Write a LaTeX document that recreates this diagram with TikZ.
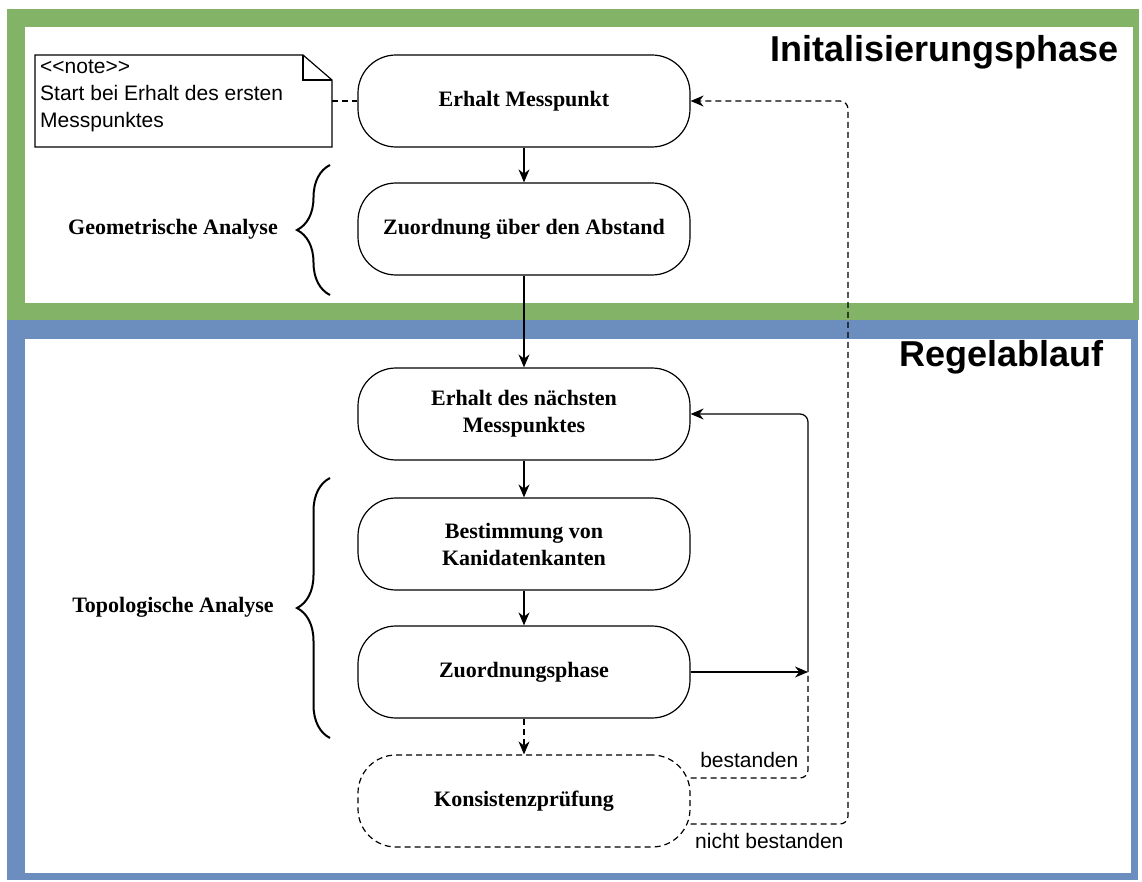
\documentclass[tikz,border=0pt]{standalone}
\usepackage{fontspec}
\setmainfont{Liberation Serif}
\setsansfont{Liberation Sans}
\usetikzlibrary{arrows.meta,decorations.pathreplacing}
\definecolor{gruen}{HTML}{82B366}
\definecolor{blau}{HTML}{6C8EBF}

\begin{document}
\begin{tikzpicture}[x=1pt,y=-1pt,
		schritt/.style={draw, line width=1.2pt, rounded corners=38pt, minimum width=332pt, minimum height=92pt, align=center, font=\bfseries\fontsize{22}{27}\selectfont},
		pfeil/.style={line width=1.2pt, -{Stealth[length=13pt,width=11pt]}},
		klammer/.style={decorate, decoration={brace,amplitude=33pt}, line width=2pt},
		seite/.style={font=\bfseries\fontsize{22}{26}\selectfont},
		titel/.style={font=\sffamily\bfseries\fontsize{36}{40}\selectfont, anchor=east},
		marke/.style={font=\sffamily\fontsize{21}{27}\selectfont},
		gestrichelt/.style={dash pattern=on 6pt off 4pt}]
		\useasboundingbox (0,0) rectangle (1142,882);
		\fill[gruen] (7,9) rectangle (1139,320);
		\fill[white] (25,27) rectangle (1133,303);
		\fill[blau] (7,320) rectangle (1138,880);
		\fill[white] (25,339) rectangle (1131,873);
		
		\node[titel] (init) at (1122,52) {Initalisierungsphase};
		\node[titel] (regel) at (1107,357) {Regelablauf};
		
		\node[schritt] (erhalt) at (524,101) {Erhalt Messpunkt};
		\node[schritt] (abstand) at (524,229) {Zuordnung über den Abstand};
		\node[schritt] (naechst) at (524,414) {Erhalt des nächsten\\Messpunktes};
		\node[schritt] (kanten) at (524,544) {Bestimmung von\\Kanidatenkanten};
		\node[schritt] (zuord) at (524,672) {Zuordnungsphase};
		\node[schritt, gestrichelt] (konsistenz) at (524,801) {Konsistenzprüfung};
		
		\draw[line width=1.2pt, fill=white] (35,55) -- (303,55) -- (332,80) -- (332,147) -- (35,147) -- cycle;
		\draw[line width=1.2pt] (303,55) -- (303,80) -- (332,80);
		\node[marke, anchor=north west, align=left, inner sep=0pt] (notiz) at (40,60) {<\kern0pt<note>\kern0pt>\\Start bei Erhalt des ersten\\Messpunktes};
		\coordinate (notizrand) at (332,101);
		\draw[gestrichelt, line width=1.2pt] (notizrand) -- (erhalt.west);
		
		\draw[klammer] (330,295) -- (330,165);
		\node[seite] (geo) at (173,229) {Geometrische Analyse};
		\draw[klammer] (330,738) -- (330,478);
		\node[seite] (topo) at (173,607) {Topologische Analyse};
		
		\draw[pfeil] (erhalt) -- (abstand);
		\draw[pfeil] (abstand) -- (naechst);
		\draw[pfeil] (naechst) -- (kanten);
		\draw[pfeil] (kanten) -- (zuord);
		\draw[pfeil, gestrichelt] (zuord) -- (konsistenz);
		\coordinate (knick) at (808,672);
		\coordinate (oben) at (848,101);
		\draw[pfeil] (zuord) -- (knick);
		\draw[pfeil, rounded corners=8pt] (knick) |- (naechst);
		\draw[gestrichelt, line width=1.2pt, rounded corners=8pt] ([yshift=23pt]konsistenz.east) -| node[marke, pos=0.25, above=6pt] {bestanden} (knick);
		\draw[pfeil, gestrichelt, rounded corners=8pt] ([yshift=-23pt]konsistenz.east) -| node[marke, pos=0.25, below=5pt] {nicht bestanden} (oben) -- (erhalt.east);
\end{tikzpicture}
\end{document}
